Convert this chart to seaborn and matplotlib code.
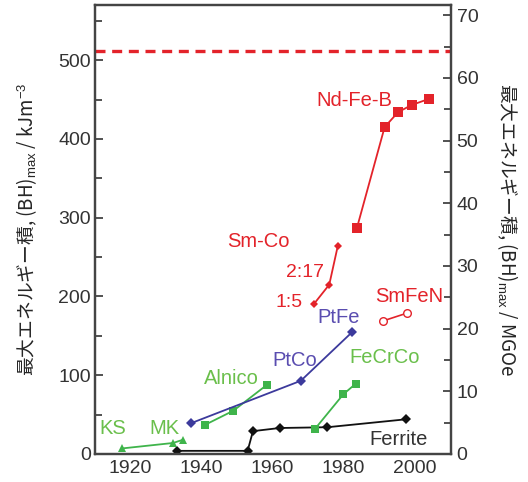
import matplotlib
matplotlib.use("Agg")
import matplotlib.pyplot as plt
import seaborn as sns
import pandas as pd
from matplotlib.ticker import MultipleLocator

# ---- data (year, (BH)max in kJ/m^3) ----
ferrite_year = [1933, 1953, 1954.5, 1962, 1975.5, 1997.5]
ferrite_bh = [4, 4, 29, 33, 34, 44]

ksmk_year = [1917.5, 1932, 1934.7]
ksmk_bh = [7, 14, 18]

alnico_year = [1941, 1949, 1958.5]
alnico_bh = [37, 55, 88]

pt_year = [1937, 1968, 1982.5]
pt_bh = [39, 93, 155]

fecrco_year = [1972, 1980, 1983.4]
fecrco_bh = [32, 76, 89]

smco_year = [1971.6, 1976, 1978.4]
smco_bh = [190, 215, 264]

ndfeb_year = [1983.8, 1991.6, 1995.4, 1999.2, 2004.2]
ndfeb_bh = [287, 415, 434, 443, 451]

smfen_year = [1991.2, 1998]
smfen_bh = [169, 179]

limit_bh = 512

labels = ["Nd-Fe-B", "Sm-Co", "2:17", "1:5", "SmFeN", "PtFe", "PtCo",
          "FeCrCo", "Alnico", "KS", "MK", "Ferrite"]
label_year = [1983.1, 1956, 1969.3, 1964.6, 1998.6, 1978.7, 1966.3,
              1991.5, 1948.5, 1915, 1929.6, 1995.6]
label_bh = [449, 270, 230, 192, 200, 173, 119, 123, 96, 33, 33, 18]

x_ticks = [1920, 1940, 1960, 1980, 2000]

KJ_PER_MGOE = 7.958

RED = "#e3232a"
GREEN = "#3fb44b"
GREEN_T = "#6abf4b"
BLUE = "#3c3a9c"
BLUE_T = "#5a4db0"
BLACK = "#111111"

sns.set_style("white")
plt.rcParams["font.family"] = ["Liberation Sans", "Noto Sans CJK JP", "DejaVu Sans"]
plt.rcParams["mathtext.fontset"] = "custom"
plt.rcParams["mathtext.rm"] = "Liberation Sans"
plt.rcParams["mathtext.it"] = "Liberation Sans:italic"

fig = plt.figure(figsize=(5.28, 4.82), dpi=100)
ax = fig.add_axes([95 / 528, 1 - 454 / 482, (451 - 95) / 528, (454 - 5) / 482])


def draw(xs, ys, color, marker, ms, lw=1.3, mfc=None, mew=0.0):
    df = pd.DataFrame({"year": xs, "bh": ys})
    sns.lineplot(data=df, x="year", y="bh", ax=ax, color=color, marker=marker,
                 markersize=ms, linewidth=lw, markeredgecolor=color,
                 markerfacecolor=mfc if mfc is not None else color,
                 markeredgewidth=mew, sort=False, estimator=None)


draw(ferrite_year, ferrite_bh, BLACK, "D", 5.0)
draw(ksmk_year, ksmk_bh, GREEN, "^", 5.5)
draw(alnico_year, alnico_bh, GREEN, "s", 6.0)
draw(pt_year, pt_bh, BLUE, "D", 5.0)
draw(fecrco_year, fecrco_bh, GREEN, "s", 6.0)
draw(smco_year, smco_bh, RED, "D", 4.0)
draw(ndfeb_year, ndfeb_bh, RED, "s", 7.0)
draw(smfen_year, smfen_bh, RED, "o", 5.5, lw=1.2, mfc="white", mew=1.0)

ax.axhline(limit_bh, color=RED, linewidth=2.4, linestyle=(0, (3.0, 2.0)))

label_colors = [RED, RED, RED, RED, RED, BLUE_T, BLUE_T, GREEN_T, GREEN_T,
                GREEN_T, GREEN_T, "#333333"]
for t, xx, yy, c in zip(labels, label_year, label_bh, label_colors):
    ax.text(xx, yy, t, color=c, fontsize=14.5 if t not in ("2:17", "1:5") else 14,
            ha="center", va="center")

ax.set_xlim(1910, 2010.3)
ax.set_ylim(0, 570)
ax.set_xticks(x_ticks)
ax.xaxis.set_minor_locator(MultipleLocator(5))
ax.yaxis.set_major_locator(MultipleLocator(100))
ax.yaxis.set_minor_locator(MultipleLocator(50))
ax.set_xlabel("")
ax.set_ylabel(r"最大エネルギー積, (BH)$_{\mathrm{max}}$ / kJm$^{-3}$",
              fontsize=13.5, family=["Noto Sans CJK JP", "DejaVu Sans"], labelpad=14)

ax.tick_params(axis="both", which="both", direction="in", labelsize=14,
               colors="#333333", width=1.2, top=False, right=False)
ax.tick_params(which="major", length=6)
ax.tick_params(which="minor", length=5)
ax.tick_params(axis="x", pad=4)
ax.tick_params(axis="y", pad=3)

for s in ax.spines.values():
    s.set_color("#444444")
    s.set_linewidth(1.6)

ax2 = ax.twinx()
ax2.set_ylim(0, 570 / KJ_PER_MGOE)
ax2.yaxis.set_major_locator(MultipleLocator(10))
ax2.yaxis.set_minor_locator(MultipleLocator(5))
ax2.tick_params(axis="y", which="both", direction="in", labelsize=14,
                colors="#333333", width=1.2, pad=4)
ax2.tick_params(which="major", length=6)
ax2.tick_params(which="minor", length=5)
ax2.set_ylabel(r"最大エネルギー積, (BH)$_{\mathrm{max}}$ / MGOe",
               fontsize=13.5, family=["Noto Sans CJK JP", "DejaVu Sans"],
               rotation=270, labelpad=30)
for s in ax2.spines.values():
    s.set_color("#444444")
    s.set_linewidth(1.6)
ax2.grid(False)
ax.grid(False)

fig.savefig("out.png", dpi=100)
